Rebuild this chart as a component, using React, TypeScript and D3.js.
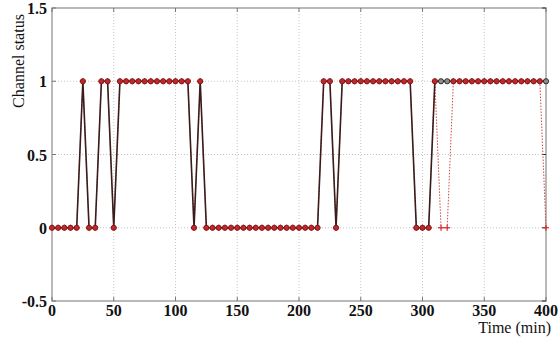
import * as d3 from "d3";

// sampling times (min), one reading every 5 minutes
const times = d3.range(0, 401, 5);

// observed channel status (solid line, red circles)
const observed = [
  0, 0, 0, 0, 0, 1, 0, 0, 1, 1, 0,
  1, 1, 1, 1, 1, 1, 1, 1, 1, 1, 1, 1,
  0, 1,
  0, 0, 0, 0, 0, 0, 0, 0, 0, 0, 0, 0, 0, 0, 0, 0, 0, 0, 0,
  1, 1, 0,
  1, 1, 1, 1, 1, 1, 1, 1, 1, 1, 1, 1,
  0, 0, 0,
  1, 1, 1, 1, 1, 1, 1, 1, 1, 1, 1, 1, 1, 1, 1, 1, 1, 1, 1,
];

// predicted channel status (red dotted line, + markers)
const predicted = [
  0, 0, 0, 0, 0, 1, 0, 0, 1, 1, 0,
  1, 1, 1, 1, 1, 1, 1, 1, 1, 1, 1, 1,
  0, 1,
  0, 0, 0, 0, 0, 0, 0, 0, 0, 0, 0, 0, 0, 0, 0, 0, 0, 0, 0,
  1, 1, 0,
  1, 1, 1, 1, 1, 1, 1, 1, 1, 1, 1, 1,
  0, 0, 0,
  1, 0, 0, 1, 1, 1, 1, 1, 1, 1, 1, 1, 1, 1, 1, 1, 1, 1, 0,
];

const xTicks = [0, 50, 100, 150, 200, 250, 300, 350, 400];
const yTicks = [-0.5, 0, 0.5, 1, 1.5];
const yTickLabels = ["-0.5", "0", "0.5", "1", "1.5"];

const W = 560;
const H = 339;
const left = 52;
const right = 546;
const top = 8;
const bottom = 301;

export default function App() {
  const x = d3.scaleLinear().domain([0, 400]).range([left, right]);
  const y = d3.scaleLinear().domain([-0.5, 1.5]).range([bottom, top]);

  const obs = times.map((t, i) => ({ t, v: observed[i], miss: observed[i] !== predicted[i] }));
  const pred = times.map((t, i) => ({ t, v: predicted[i] }));

  const line = d3
    .line<{ t: number; v: number }>()
    .x((d) => x(d.t))
    .y((d) => y(d.v));

  const serif = "Liberation Serif";

  return (
    <div style={{ position: "absolute", left: 0, top: 0 }}>
      <svg width={W} height={H} style={{ display: "block", background: "#fff" }}>
        {/* grid */}
        {xTicks.slice(1, -1).map((t) => (
          <line key={"gx" + t} x1={x(t)} x2={x(t)} y1={top} y2={bottom}
            stroke="#c4c4c4" strokeWidth={1} strokeDasharray="1,2" />
        ))}
        {yTicks.slice(1, -1).map((t) => (
          <line key={"gy" + t} x1={left} x2={right} y1={y(t)} y2={y(t)}
            stroke="#c4c4c4" strokeWidth={1} strokeDasharray="1,2" />
        ))}

        {/* box and inward ticks */}
        <rect x={left} y={top} width={right - left} height={bottom - top}
          fill="none" stroke="#8a8a8a" strokeWidth={1.2} />
        {xTicks.map((t) => (
          <g key={"tx" + t}>
            <line x1={x(t)} x2={x(t)} y1={bottom} y2={bottom - 4} stroke="#777" />
            <line x1={x(t)} x2={x(t)} y1={top} y2={top + 4} stroke="#777" />
          </g>
        ))}
        {yTicks.map((t) => (
          <g key={"ty" + t}>
            <line x1={left} x2={left + 4} y1={y(t)} y2={y(t)} stroke="#777" />
            <line x1={right} x2={right - 4} y1={y(t)} y2={y(t)} stroke="#333" />
          </g>
        ))}

        {/* predicted series */}
        <path d={line(pred) ?? undefined} fill="none" stroke="#d04a4a"
          strokeWidth={1} strokeDasharray="1.5,1.5" />
        {pred.map((d) => (
          <g key={"p" + d.t} stroke="#d42a2a" strokeWidth={1.2}>
            <line x1={x(d.t) - 3} x2={x(d.t) + 3} y1={y(d.v)} y2={y(d.v)} />
            <line x1={x(d.t)} x2={x(d.t)} y1={y(d.v) - 3} y2={y(d.v) + 3} />
          </g>
        ))}

        {/* observed series */}
        <path d={line(obs) ?? undefined} fill="none" stroke="#3a1c1c" strokeWidth={1.6} />
        {obs.map((d) => (
          <circle key={"o" + d.t} cx={x(d.t)} cy={y(d.v)} r={2.6}
            fill={d.miss ? "#8a8f8a" : "#c0282c"}
            stroke={d.miss ? "#1e1e1e" : "#7a1414"} strokeWidth={0.9} />
        ))}

        {/* tick labels */}
        {xTicks.map((t) => (
          <text key={"lx" + t} x={x(t)} y={316} textAnchor="middle"
            fontFamily={serif} fontWeight="bold" fontSize={16} fill="#111">
            {t}
          </text>
        ))}
        {yTicks.map((t, i) => (
          <text key={"ly" + t} x={47} y={y(t) + 6} textAnchor="end"
            fontFamily={serif} fontWeight="bold" fontSize={16} fill="#111">
            {yTickLabels[i]}
          </text>
        ))}

        {/* axis titles */}
        <text x={551} y={333} textAnchor="end" fontFamily={serif} fontSize={16} fill="#111">
          Time (min)
        </text>
        <text transform="translate(24,61) rotate(-90)" textAnchor="middle"
          fontFamily={serif} fontSize={16} fill="#111">
          Channel status
        </text>
      </svg>
    </div>
  );
}
